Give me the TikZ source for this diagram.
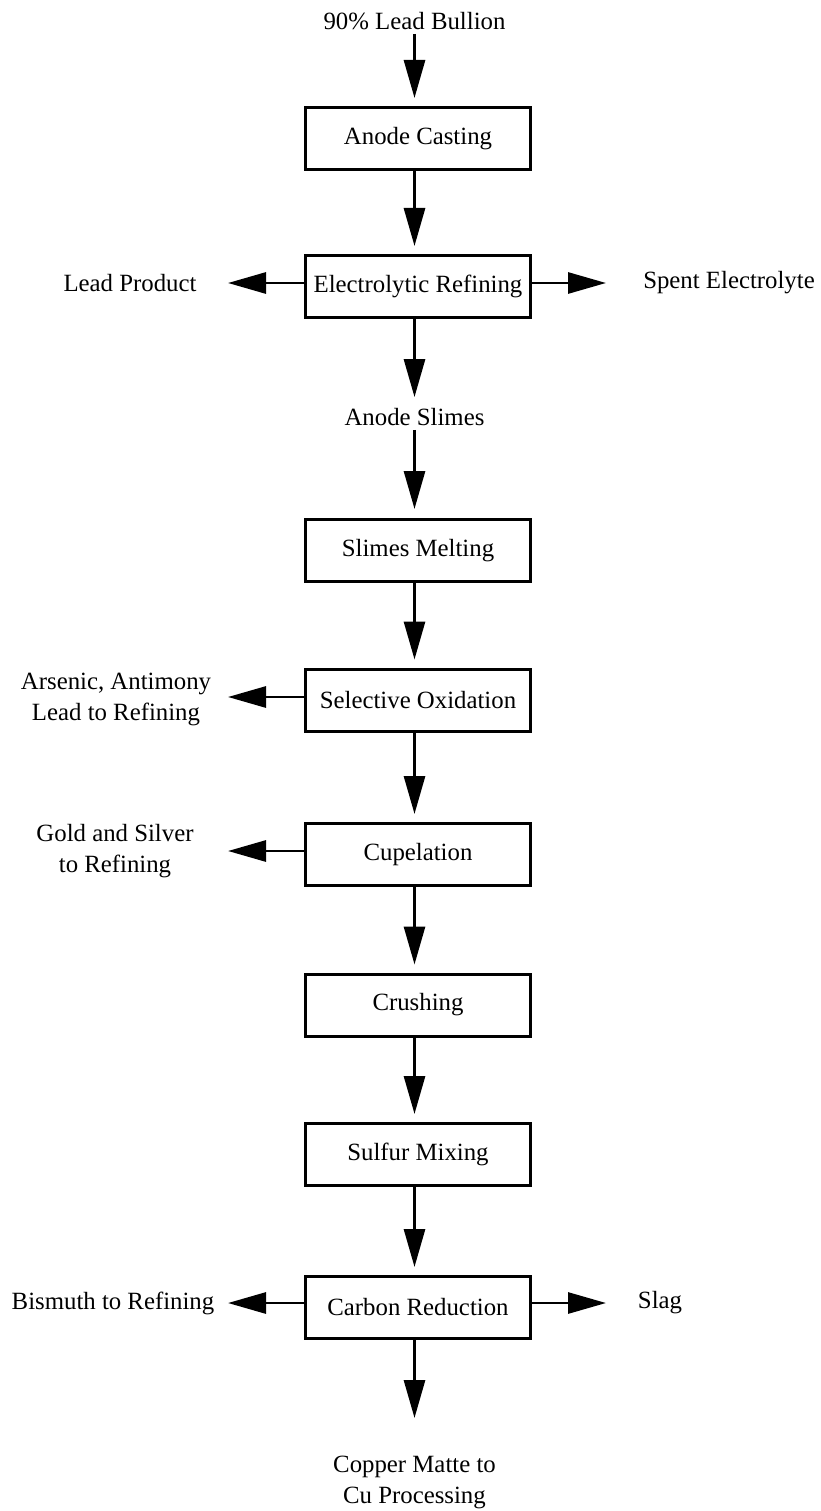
\documentclass[tikz,border=0pt]{standalone}
\usepackage{fontspec}
\setmainfont{Liberation Serif}
\usetikzlibrary{arrows.meta}
\newcommand{\fs}{\fontsize{24.8}{31}\selectfont}
\begin{document}
\begin{tikzpicture}[x=1pt,y=-1pt,
  procbox/.style={draw, line width=3pt, minimum width=225pt, minimum height=62pt, inner sep=0pt, font=\fs},
  lbl/.style={align=center, inner sep=0pt, font=\fs},
  arr/.style={line width=2.9pt, -{Triangle[length=38pt,width=21pt]}}]
\useasboundingbox (0,0) rectangle (820,1511);
% nodes
\node[lbl] (lb) at (414.5,21) {90\% Lead Bullion};
\node[procbox] (ac) at (418,138.5) {Anode Casting};
\node[procbox] (er) at (418,286.5) {Electrolytic Refining};
\node[lbl] (lp) at (130,283) {Lead Product};
\node[lbl] (se) at (729,283) {Spent Electrolyte};
\node[lbl] (as) at (414.5,417) {Anode Slimes};
\node[procbox] (sm) at (418,550.5) {Slimes Melting};
\node[procbox] (so) at (418,700) {Selective Oxidation};
\node[lbl] (ar) at (116,699.5) {Arsenic, Antimony\\Lead to Refining};
\node[procbox] (cu) at (418,854.5) {Cupelation};
\node[lbl] (gs) at (115,851) {Gold and Silver\\to Refining};
\node[procbox] (cr) at (418,1005) {Crushing};
\node[procbox] (sf) at (418,1154.5) {Sulfur Mixing};
\node[procbox] (cb) at (418,1307.5) {Carbon Reduction};
\node[lbl] (bi) at (113,1303) {Bismuth to Refining};
\node[lbl] (sl) at (660,1303) {Slag};
\node[lbl] (cm) at (414.5,1482) {Copper Matte to\\Cu Processing};
% tips
\coordinate (tlp) at (228,283);
\coordinate (tse) at (606,283);
\coordinate (tar) at (228,697);
\coordinate (tgs) at (228,851);
\coordinate (tbi) at (228,1303);
\coordinate (tsl) at (606,1303);
\coordinate (tcm) at (414.5,1418);
% vertical connectors
\draw[arr, shorten <=4pt, shorten >=8pt] (lb.south) -- ([xshift=-3.5pt]ac.north);
\draw[arr, shorten >=8pt] ([xshift=-3.5pt]ac.south) -- ([xshift=-3.5pt]er.north);
\draw[arr, shorten >=11pt] ([xshift=-3.5pt]er.south) -- (as.north);
\draw[arr, shorten <=4pt, shorten >=9pt] (as.south) -- ([xshift=-3.5pt]sm.north);
\draw[arr, shorten >=8pt] ([xshift=-3.5pt]sm.south) -- ([xshift=-3.5pt]so.north);
\draw[arr, shorten >=8pt] ([xshift=-3.5pt]so.south) -- ([xshift=-3.5pt]cu.north);
\draw[arr, shorten >=8pt] ([xshift=-3.5pt]cu.south) -- ([xshift=-3.5pt]cr.north);
\draw[arr, shorten >=8pt] ([xshift=-3.5pt]cr.south) -- ([xshift=-3.5pt]sf.north);
\draw[arr, shorten >=8pt] ([xshift=-3.5pt]sf.south) -- ([xshift=-3.5pt]cb.north);
\draw[arr] ([xshift=-3.5pt]cb.south) -- (tcm);
% side connectors
\draw[arr] ([yshift=3.5pt]er.west) -- (tlp);
\draw[arr] ([yshift=3.5pt]er.east) -- (tse);
\draw[arr] ([yshift=3pt]so.west) -- (tar);
\draw[arr] ([yshift=3.5pt]cu.west) -- (tgs);
\draw[arr] ([yshift=4.5pt]cb.west) -- (tbi);
\draw[arr] ([yshift=4.5pt]cb.east) -- (tsl);
\end{tikzpicture}
\end{document}
